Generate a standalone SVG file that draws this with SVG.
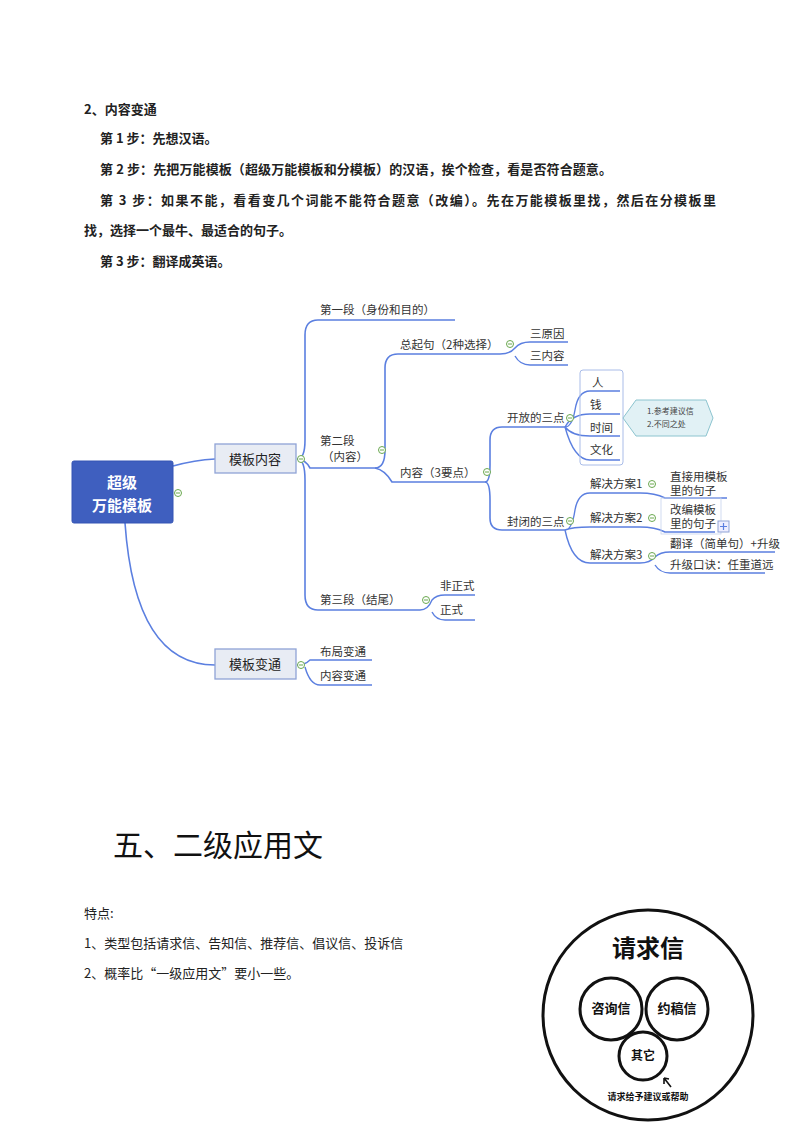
<svg xmlns="http://www.w3.org/2000/svg" width="800" height="1132" viewBox="0 0 800 1132">
<style>
text{font-family:"Noto Sans CJK SC","Liberation Sans",sans-serif;fill:#222}
.b{font-weight:bold;font-size:13px}
.m{font-size:11.5px;fill:#333}
.s{font-size:8px;fill:#444}
.c{fill:none;stroke:#5b7fe0;stroke-width:1.6}
.u{fill:none;stroke:#5b7fe0;stroke-width:1.4}
.g{fill:#fff;stroke:#6aa84f;stroke-width:1}
.p{font-size:13px;fill:#222}
</style>
<rect width="800" height="1132" fill="#fff"/>
<g id="intro">
<text class="b" x="84" y="114">2、内容变通</text>
<text class="b" x="100" y="143">第 1 步：先想汉语。</text>
<text class="b" x="100" y="174" textLength="512" lengthAdjust="spacing">第 2 步：先把万能模板（超级万能模板和分模板）的汉语，挨个检查，看是否符合题意。</text>
<text class="b" x="100" y="205" textLength="616" lengthAdjust="spacing">第 3 步：如果不能，看看变几个词能不能符合题意（改编）。先在万能模板里找，然后在分模板里</text>
<text class="b" x="84" y="235">找，选择一个最牛、最适合的句子。</text>
<text class="b" x="100" y="266">第 3 步：翻译成英语。</text>
</g>
<g id="connectors">
<path class="c" stroke-width="3" d="M173 466 Q195 460 215 459"/>
<path class="c" stroke-width="3" d="M125 523 Q135 665 215 665"/>
<path class="c" d="M297 459 Q305 459 305 440 L305 335 Q305 320 318 320 L455 320"/>
<path class="c" d="M297 459 Q305 459 310 468 L375 468"/>
<path class="c" d="M297 459 Q305 459 305 480 L305 595 Q305 610 318 610 L420 610"/>
<path class="u" d="M420 610 Q428 610 432 600 Q436 595 445 595 L475 595 M432 612 Q436 620 445 620 L475 620"/>
<path class="c" d="M375 468 Q385 468 385 450 L385 368 Q385 354 398 354 L500 354"/>
<path class="c" d="M375 468 Q385 470 392 482 L485 482"/>
<path class="u" d="M500 354 Q510 354 515 348 Q520 342 530 342 L568 342 M515 356 Q520 365 530 365 L568 365"/>
<path class="c" d="M485 482 Q490 482 490 465 L490 440 Q490 427 502 427 L565 427"/>
<path class="c" d="M485 482 Q490 482 490 500 L490 518 Q490 530 502 530 L565 530"/>
<path class="u" d="M565 427 Q572 427 575 410 Q578 391 590 391 L620 391 M565 427 Q572 414 590 414 L620 414 M565 427 Q572 436 590 436 L620 436 M565 427 Q574 460 590 460 L620 460"/>
<path class="u" d="M565 530 Q572 530 575 510 Q578 493 590 493 L640 493 Q655 493 665 498 L727 498 M565 530 Q572 527 590 527 L640 527 Q655 527 665 532 L715 532 M565 530 Q572 563 590 563 L640 563"/>
<path class="u" d="M640 563 Q650 563 655 557 Q660 552 670 552 L775 552 M655 565 Q660 573 670 573 L765 573"/>
<path class="u" d="M297 665 Q305 665 310 660 L372 660 M305 667 Q310 685 320 685 L372 685"/>
</g>
<g id="root"><rect x="72" y="461" width="101" height="62" rx="2" fill="#3f5fbf" stroke="#3454b4"/>
<text x="122" y="488" text-anchor="middle" font-size="15" font-weight="bold" style="fill:#fff">超级</text>
<text x="122" y="511" text-anchor="middle" font-size="15" font-weight="bold" style="fill:#fff">万能模板</text></g>
<g id="n1"><rect x="215" y="444" width="81" height="29" fill="#e8ecf4" stroke="#8fa3d6" stroke-width="1.3"/><text x="255" y="464" text-anchor="middle" font-size="13">模板内容</text></g>
<g id="n2"><rect x="215" y="649" width="81" height="30" fill="#e8ecf4" stroke="#8fa3d6" stroke-width="1.3"/><text x="255" y="669" text-anchor="middle" font-size="13">模板变通</text></g>
<g id="labels">
<text class="m" x="320" y="314">第一段（身份和目的）</text>
<text class="m" x="320" y="445">第二段</text>
<text class="m" x="322" y="461">（内容）</text>
<text class="m" x="320" y="604">第三段（结尾）</text>
<text class="m" x="440" y="590">非正式</text>
<text class="m" x="440" y="614">正式</text>
<text class="m" x="400" y="349">总起句（2种选择）</text>
<text class="m" x="400" y="477">内容（3要点）</text>
<text class="m" x="530" y="338">三原因</text>
<text class="m" x="530" y="360">三内容</text>
<text class="m" x="507" y="422">开放的三点</text>
<text class="m" x="507" y="526">封闭的三点</text>
<rect x="580" y="370" width="43" height="95" rx="3" fill="none" stroke="#a9bce8"/>
<text class="m" x="592" y="387">人</text>
<text class="m" x="590" y="409">钱</text>
<text class="m" x="590" y="432">时间</text>
<text class="m" x="590" y="454">文化</text>
<path d="M623 418 L636 400 L706 400 L713 418 L706 436 L636 436 Z" fill="#e1f1f5" stroke="#8cc4cf"/>
<text class="s" x="647" y="414">1.参考建议信</text>
<text class="s" x="647" y="427">2.不同之处</text>
<text class="m" x="590" y="488">解决方案1</text>
<text class="m" x="590" y="522">解决方案2</text>
<text class="m" x="590" y="559">解决方案3</text>
<text class="m" x="670" y="481">直接用模板</text>
<text class="m" x="670" y="495">里的句子</text>
<text class="m" x="670" y="514">改编模板</text>
<text class="m" x="670" y="528">里的句子</text>
<rect x="661" y="498" width="60" height="36" fill="none" stroke="#c5d2ee" stroke-width="0.8"/>
<rect x="718" y="521" width="11" height="11" fill="#eef" stroke="#8fa3d6"/>
<path d="M720 526.5 H727 M723.5 523 V530" stroke="#5b7fe0" stroke-width="1.2"/>
<text class="m" x="670" y="548" font-size="10.5">翻译（简单句）+升级</text>
<text class="m" x="670" y="569" font-size="10.5">升级口诀：任重道远</text>
<text class="m" x="320" y="656">布局变通</text>
<text class="m" x="320" y="680">内容变通</text>
</g>
<g id="toggles">
<circle class="g" cx="178" cy="493" r="3.5"/><circle class="g" cx="301" cy="459" r="3.5"/><circle class="g" cx="382" cy="450" r="3.5"/>
<circle class="g" cx="487" cy="472" r="3.5"/><circle class="g" cx="510" cy="344" r="3.5"/><circle class="g" cx="570" cy="418" r="3.5"/>
<circle class="g" cx="570" cy="521" r="3.5"/><circle class="g" cx="652" cy="484" r="3.5"/><circle class="g" cx="652" cy="518" r="3.5"/>
<circle class="g" cx="652" cy="556" r="3.5"/><circle class="g" cx="426" cy="600" r="3.5"/><circle class="g" cx="301" cy="665" r="3.5"/>
<path d="M176 493 H180 M299 459 H303 M380 450 H384 M485 472 H489 M508 344 H512 M568 418 H572 M568 521 H572 M650 484 H654 M650 518 H654 M650 556 H654 M424 600 H428 M299 665 H303" stroke="#6aa84f" stroke-width="1"/>
</g>
<g id="section">
<text x="113" y="856" font-size="30" style="fill:#111">五、二级应用文</text>
<text class="p" x="84" y="918">特点:</text>
<text class="p" x="84" y="948">1、类型包括请求信、告知信、推荐信、倡议信、投诉信</text>
<text class="p" x="84" y="978">2、概率比“一级应用文”要小一些。</text>
</g>
<g id="venn" fill="none" stroke="#111" stroke-width="3">
<circle cx="648" cy="1015" r="105"/>
<circle cx="611" cy="1009" r="31"/>
<circle cx="677" cy="1009" r="31"/>
<circle cx="643" cy="1056" r="24"/>
<path d="M671 1087 L664 1078 M664 1078 L664 1084 M664 1078 L669 1079" stroke-width="1.6"/>
<text x="648" y="957" text-anchor="middle" font-size="24" font-weight="bold" style="fill:#111;stroke:none">请求信</text>
<text x="611" y="1013" text-anchor="middle" font-size="13" font-weight="bold" style="fill:#111;stroke:none">咨询信</text>
<text x="677" y="1013" text-anchor="middle" font-size="13" font-weight="bold" style="fill:#111;stroke:none">约稿信</text>
<text x="643" y="1060" text-anchor="middle" font-size="12" font-weight="bold" style="fill:#111;stroke:none">其它</text>
<text x="648" y="1100" text-anchor="middle" font-size="9" font-weight="bold" style="fill:#111;stroke:none">请求给予建议或帮助</text>
</g>
</svg>
